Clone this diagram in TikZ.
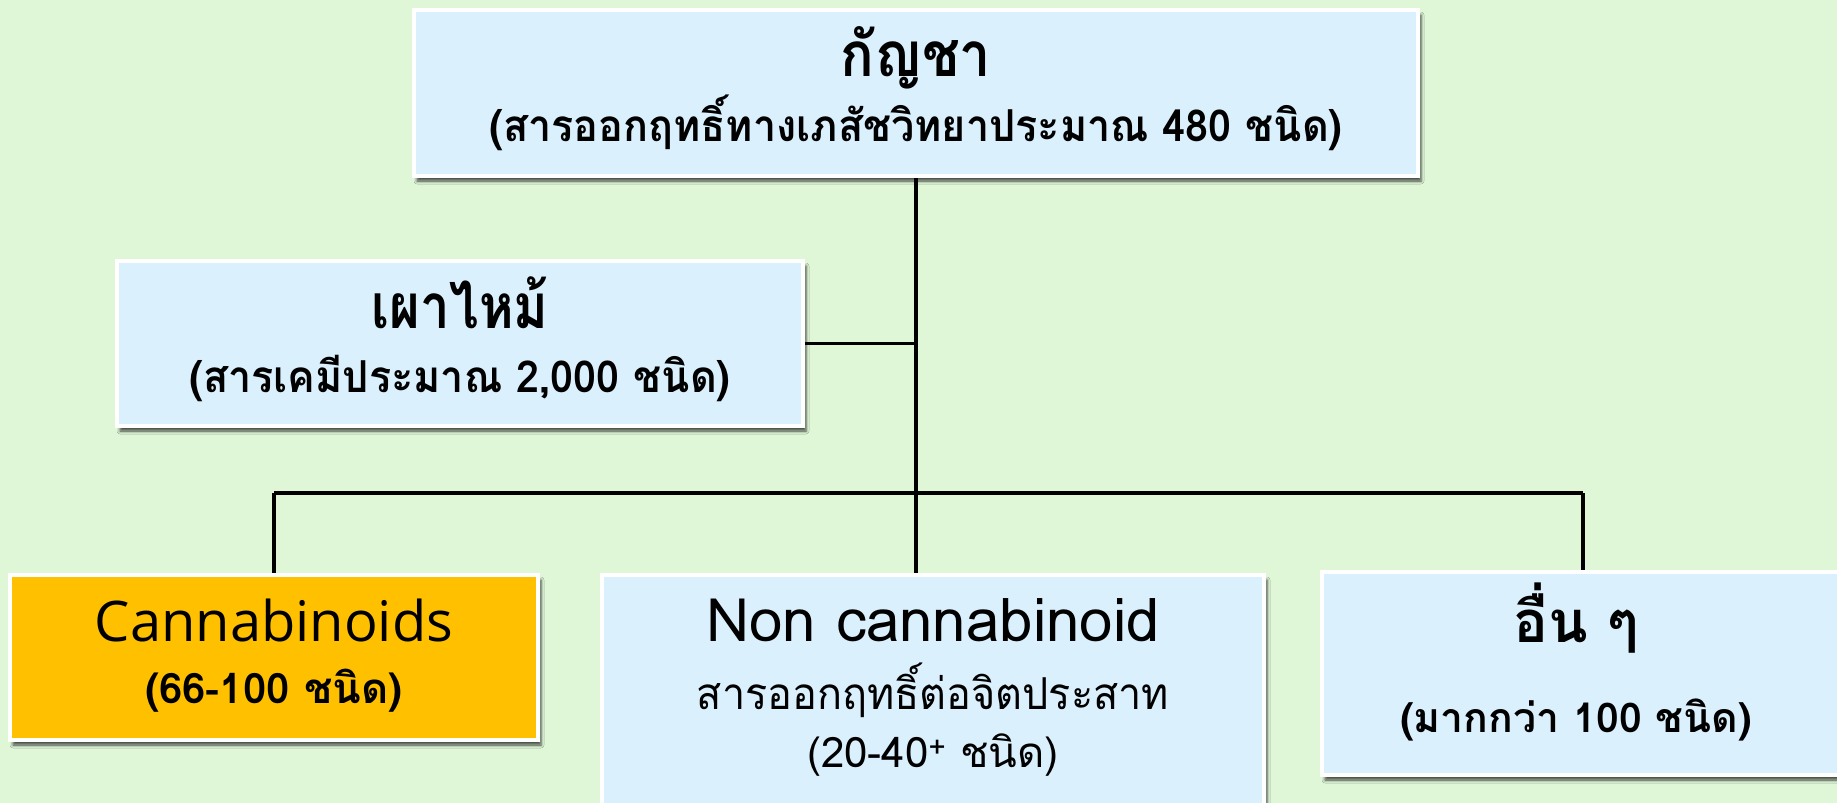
\documentclass[tikz,border=0pt]{standalone}
\usepackage{fontspec}
\newfontfamily\thai[Script=Thai]{Loma}
\newfontfamily\thaiA[Script=Thai,FakeStretch=0.9]{Loma}
\newfontfamily\thaiB[Script=Thai,FakeStretch=0.85]{Loma}
\newfontfamily\thaiC[Script=Thai,FakeStretch=0.94]{Loma}
\newfontfamily\latin{Open Sans}
\usetikzlibrary{shadows.blur}
\definecolor{bg}{HTML}{DFF6D7}
\definecolor{boxblue}{HTML}{DAF0FD}
\definecolor{boxorange}{HTML}{FFC000}
\tikzset{
  card/.style={draw=white, line width=4pt, fill=boxblue, inner sep=0pt,
    blur shadow={shadow xshift=3pt, shadow yshift=-5pt, shadow blur radius=3pt, shadow opacity=70}},
  conn/.style={line width=3.5pt, black},
  txt/.style={anchor=base, inner sep=0pt}
}
\begin{document}
\begin{tikzpicture}[x=1pt,y=-1pt]
\fill[bg] (0,0) rectangle (1837,803);
\useasboundingbox (0,0) rectangle (1837,803);
\clip (0,0) rectangle (1837,803);
% boxes
\node[card, minimum width=1004pt, minimum height=166pt] (top) at (916,93) {};
\node[card, minimum width=686pt, minimum height=165pt] (burn) at (460,343.5) {};
\node[card, fill=boxorange, minimum width=528pt, minimum height=165pt] (cann) at (274,657.5) {};
\node[card, minimum width=662pt, minimum height=263pt] (non) at (933,706.5) {};
\node[card, minimum width=522pt, minimum height=203pt] (other) at (1583,673.5) {};
% connectors
\coordinate (j) at (916,493);
\draw[conn] (top.south) -- (top.south |- non.north);
\draw[conn] (burn.east) -- (burn.east -| top.south);
\draw[conn] (cann.north |- j) -- (other.north |- j);
\draw[conn] (cann.north |- j) -- (cann.north);
\draw[conn] (other.north |- j) -- (other.north);
% texts
\node[txt, font=\thaiA\fontsize{62}{64}\selectfont\bfseries] (t1) at (916,76) {กัญชา};
\node[txt, font=\thaiC\fontsize{44}{48}\selectfont\bfseries] (t2) at (916,141) {(สารออกฤทธิ์ทางเภสัชวิทยาประมาณ 480 ชนิด)};
\node[txt, font=\thaiB\fontsize{62}{64}\selectfont\bfseries] (b1) at (460,328) {เผาไหม้};
\node[txt, font=\thaiC\fontsize{44}{48}\selectfont\bfseries] (b2) at (460,392) {(สารเคมีประมาณ 2,000 ชนิด)};
\node[txt, font=\latin\fontsize{56}{60}\selectfont] (c1) at (274,641) {Cannabinoids};
\node[txt, font=\thai\fontsize{42}{46}\selectfont\bfseries] (c2) at (274,703) {(66-100 ชนิด)};
\node[txt, font=\thai\fontsize{60}{64}\selectfont] (n1) at (933,641) {Non cannabinoid};
\node[txt, font=\thaiC\fontsize{44}{48}\selectfont] (n2) at (933,709) {สารออกฤทธิ์ต่อจิตประสาท};
\node[txt, font=\thai\fontsize{42}{46}\selectfont] (n3) at (933,767) {(20-40\textsuperscript{+} ชนิด)};
\node[txt, font=\thai\fontsize{58}{62}\selectfont\bfseries] (o1) at (1576,642) {อื่น ๆ};
\node[txt, font=\thai\fontsize{41}{45}\selectfont\bfseries] (o2) at (1576,732) {(มากกว่า 100 ชนิด)};
\end{tikzpicture}
\end{document}
